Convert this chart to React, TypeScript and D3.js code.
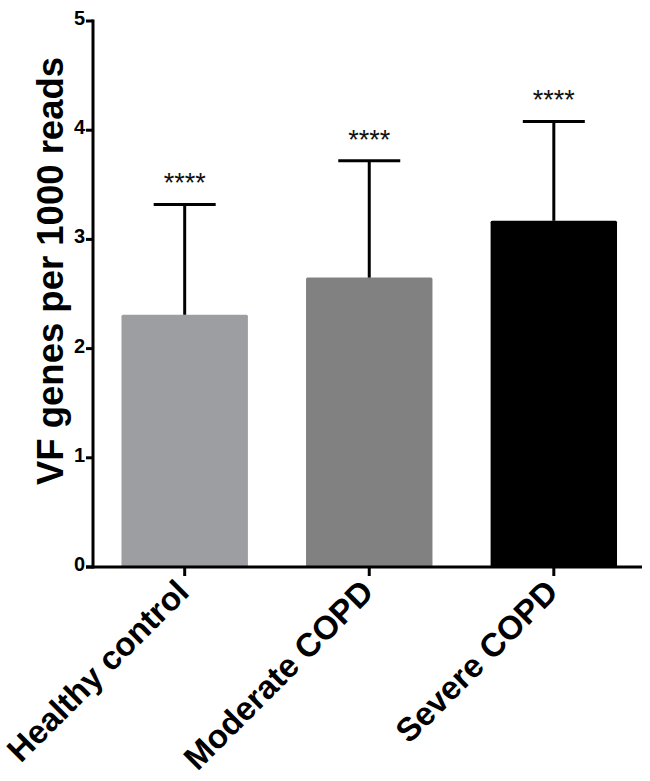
import React from "react";
import * as d3 from "d3";

const categories = ["Healthy control", "Moderate COPD", "Severe COPD"];
const means = [2.31, 2.65, 3.17];
const upperErr = [3.32, 3.72, 4.08];
const significance = ["****", "****", "****"];
const barColors = ["#9d9ea2", "#808180", "#000000"];
const yTicks = [0, 1, 2, 3, 4, 5];
const yLabel = "VF genes per 1000 reads";

const W = 650;
const H = 781;
const FONT = "'Liberation Sans', Arial, Helvetica, sans-serif";

export default function App() {
  const axisX = 93;
  const y = d3.scaleLinear().domain([0, 5]).range([567, 21]);
  const x = d3.scaleBand().domain(categories).range([92.5, 646]).paddingInner(0.315).paddingOuter(0.157);
  const bw = x.bandwidth();
  const capHalf = 31;

  return (
    <svg width={W} height={H} style={{ position: "absolute", left: 0, top: 0, background: "#fff" }}>
      <rect x={0} y={0} width={W} height={H} fill="#fff" />
      {categories.map((c, i) => {
        const cx = (x(c) as number) + bw / 2;
        return (
          <g key={c}>
            <rect x={x(c)} y={y(means[i])} width={bw} height={y(0) - y(means[i])} fill={barColors[i]} rx={1.5} />
            <line x1={cx} x2={cx} y1={y(means[i])} y2={y(upperErr[i])} stroke="#000" strokeWidth={3} />
            <line x1={cx - capHalf} x2={cx + capHalf} y1={y(upperErr[i])} y2={y(upperErr[i])} stroke="#000" strokeWidth={3} />
            <text x={cx} y={y(upperErr[i]) - 12} textAnchor="middle" fontFamily={FONT} fontSize={27} fill="#111">
              {significance[i]}
            </text>
            <line x1={cx} x2={cx} y1={y(0)} y2={y(0) + 9} stroke="#000" strokeWidth={3} />
            <text
              transform={`translate(${cx + 6},${y(0) + 27}) rotate(-45)`}
              textAnchor="end"
              fontFamily={FONT}
              fontWeight="bold"
              fontSize={33}
              fill="#000"
            >
              {c}
            </text>
          </g>
        );
      })}
      {/* y axis */}
      <line x1={axisX} x2={axisX} y1={y(5) - 1.5} y2={y(0) + 1.5} stroke="#000" strokeWidth={3} />
      {yTicks.map((t) => (
        <g key={t}>
          <line x1={axisX - 7} x2={axisX} y1={y(t)} y2={y(t)} stroke="#000" strokeWidth={3} />
          <text x={axisX - 8} y={y(t) + 4} textAnchor="end" fontFamily={FONT} fontWeight="bold" fontSize={20} fill="#000">
            {t}
          </text>
        </g>
      ))}
      {/* x axis */}
      <line x1={86} x2={642} y1={y(0)} y2={y(0)} stroke="#000" strokeWidth={3} />
      <text
        transform={`translate(63,271) rotate(-90)`}
        textAnchor="middle"
        fontFamily={FONT}
        fontWeight="bold"
        fontSize={36.5}
        fill="#000"
      >
        {yLabel}
      </text>
    </svg>
  );
}
